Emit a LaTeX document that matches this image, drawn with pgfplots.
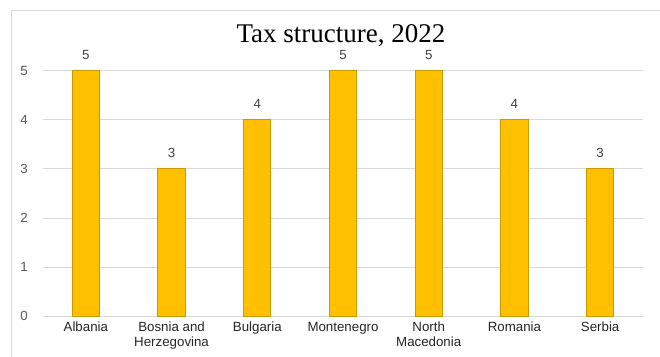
\documentclass[border=0pt]{standalone}
\usepackage{pgfplots}
\pgfplotsset{compat=1.18}
\usepackage{fontspec}
\setmainfont{Liberation Sans}
\newfontfamily\titlefont{Liberation Serif}
\definecolor{barfill}{HTML}{FFC000}
\definecolor{baredge}{HTML}{C89B00}
\definecolor{gridc}{HTML}{D9D9D9}
\definecolor{ticklbl}{HTML}{595959}
\definecolor{catlbl}{HTML}{262626}
\definecolor{datalbl}{HTML}{404040}
\begin{document}
\begin{tikzpicture}[x=1bp,y=1bp]
\useasboundingbox (0,0) rectangle (660,356);
\fill[white] (0,0) rectangle (660,356);
\draw[gridc, line width=1bp] (11,-20) -- (11,345) -- (680,345);
\begin{axis}[
  at={(43bp,40bp)}, anchor=south west,
  scale only axis, width=600bp, height=245bp,
  xmin=-0.5, xmax=6.5, ymin=0, ymax=5,
  ybar, bar width=27.3bp,
  axis line style={draw=none},
  major tick length=0pt,
  ymajorgrids, grid style={gridc, line width=1bp},
  ytick={0,1,2,3,4,5},
  xtick={0,1,2,3,4,5,6},
  xticklabels={Albania, Bosnia and\\Herzegovina, Bulgaria, Montenegro, North\\Macedonia, Romania, Serbia},
  /pgf/number format/assume math mode=true,
  yticklabel style={font=\fontsize{13.3bp}{15bp}\selectfont, text=ticklbl, anchor=east, inner sep=0pt, xshift=-15bp},
  xticklabel style={font=\fontsize{13.3bp}{14.5bp}\selectfont, text=catlbl, align=center, anchor=north, inner sep=0pt, yshift=-6bp},
  nodes near coords,
  every node near coord/.append style={font=\fontsize{13.3bp}{15bp}\selectfont, text=datalbl, inner sep=0pt, anchor=south, yshift=10.5bp},
]
\addplot[fill=barfill, draw=baredge, line width=1bp] coordinates {(0,5) (1,3) (2,4) (3,5) (4,5) (5,4) (6,3)};
\end{axis}
\node[font=\titlefont\fontsize{27bp}{30bp}\selectfont, anchor=base, inner sep=0pt] at (341,313.5) {Tax structure, 2022};
\end{tikzpicture}
\end{document}
